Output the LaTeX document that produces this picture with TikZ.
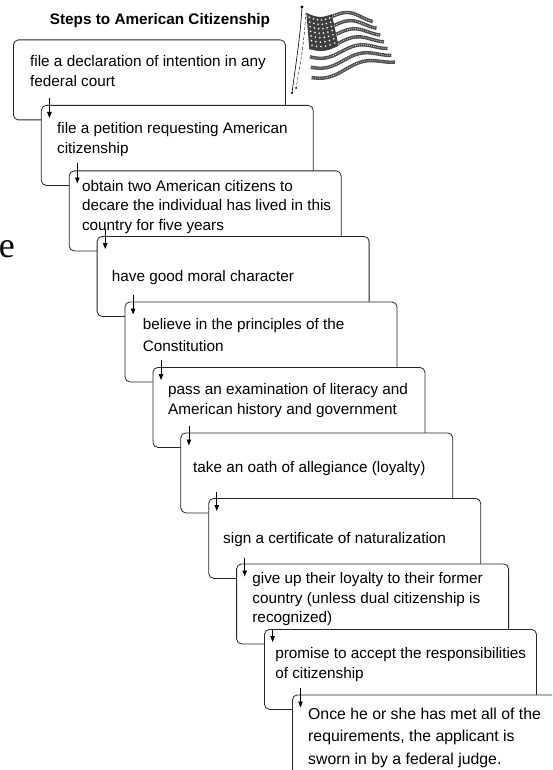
\documentclass[tikz,border=0pt]{standalone}
\usepackage{fontspec}
\setmainfont{Liberation Sans}
\newfontfamily\serifface{Liberation Serif}
\usetikzlibrary{arrows.meta}

\begin{document}
\begin{tikzpicture}[x=1pt,y=-1pt,
  stepbox/.style={draw=black!85, line width=0.8pt, rounded corners=5pt, fill=white,
    minimum width=272pt, minimum height=80pt, anchor=north west, inner sep=0pt},
  steptext/.style={anchor=north west, inner sep=0pt, align=left,
    font=\fontsize{15.3}{20}\selectfont},
  steparrow/.style={-{Triangle[length=6pt,width=4.5pt]}, line width=0.8pt},
  stripe/.style={line width=3.4pt, black!70},
  grain/.style={line width=0.7pt, white, dash pattern=on 0.7pt off 1.3pt},
  declare function={
    flagx(\u,\v)=305+67*\u+5*\v+19*\u*\v;
    flagy(\u,\v)=12+4*\u+68*\v-24*\u*\v+4*sin(\u*430);
  }
]
\clip (0,0) rectangle (552,770);

% title
\node[font=\fontsize{15.3}{18}\bfseries\selectfont, anchor=base] (title) at (160,25)
  {Steps to American Citizenship};

% stray large letter at the left margin
\node[font=\serifface\fontsize{36}{40}\selectfont, anchor=base east, inner sep=0pt]
  (mark) at (15,257) {e};

% ---- flag ----
\draw[line width=0.6pt] (302,7) .. controls (300,40) and (296,62) .. (292,93);
\draw[line width=0.4pt, densely dashed] (306,12) .. controls (304,45) and (300,66) .. (296,88);
\fill (302,7) circle (1.6pt);
\fill (292,93) circle (1.2pt);
\fill (296,88) circle (1.0pt);
% stripes
\foreach \k in {0,...,6} {
  \pgfmathsetmacro\vv{(2*\k+0.5)/13}
  \pgfmathsetmacro\us{\k<4 ? 0.40 : 0.02}
  \draw[stripe] plot[domain=\us:1, samples=30] ({flagx(\x,\vv)},{flagy(\x,\vv)});
  \draw[grain] plot[domain=\us:1, samples=30] ({flagx(\x,\vv)},{flagy(\x,\vv)});
}
% canton with stars
\fill[black!75] plot[domain=0.02:0.40, samples=12] ({flagx(\x,0)},{flagy(\x,0)})
  -- plot[domain=0:0.54, samples=8] ({flagx(0.40,\x)},{flagy(0.40,\x)})
  -- plot[domain=0.40:0.02, samples=12] ({flagx(\x,0.54)},{flagy(\x,0.54)}) -- cycle;
\foreach \a in {0.06,0.12,...,0.37} {
  \foreach \b in {0.05,0.12,...,0.5} {
    \fill[white] ({flagx(\a,\b)},{flagy(\a,\b)}) circle (0.9pt);
  }
}

% ---- steps: each box is laid over the one before it ----
\foreach \i/\dx/\dy/\lead/\fs/\txt in {
  1/17/15.3/20/15.3/{file a declaration of intention in any\\federal court},
  2/16/16.8/20/15.3/{file a petition requesting American\\citizenship},
  3/13/9.3/19.5/15.3/{obtain two American citizens to\\decare the individual has lived in this\\country for five years},
  4/15/33.8/20/15.3/{have good moral character},
  5/18/16.3/22/15.3/{believe in the principles of the\\Constitution},
  6/15.5/15.8/20/15.3/{pass an examination of literacy and\\American history and government},
  7/12.6/28.3/20/15.3/{take an oath of allegiance (loyalty)},
  8/14.7/33.8/20/15.3/{sign a certificate of naturalization},
  9/16/8.8/19.5/15.3/{give up their loyalty to their former\\country (unless dual citizenship is\\recognized)},
  10/11/17.8/20/15.3/{promise to accept the responsibilities\\of citizenship},
  11/16/13.3/22.5/15.8/{Once he or she has met all of the\\requirements, the applicant is\\sworn in by a federal judge.}} {
  \node[stepbox] (b\i) at ({13+27.9*(\i-1)},{39.5+65.5*(\i-1)}) {};
  \node[steptext, font=\fontsize{\fs}{\lead}\selectfont] (t\i)
    at ([shift={(\dx,\dy)}]b\i.north west) {\txt};
}

% arrows leading from each step into the next
\foreach \i/\up in {2/-7,3/-7,4/-7,5/-7,6/-7,7/-7,8/-6,9/-6,10/-0.5,11/-7} {
  \path (b\i.north west) ++(8.5,\up) coordinate (s\i) (b\i.north west) ++(8.5,13) coordinate (e\i);
  \draw[steparrow] (s\i) -- (e\i);
}
\end{tikzpicture}
\end{document}
